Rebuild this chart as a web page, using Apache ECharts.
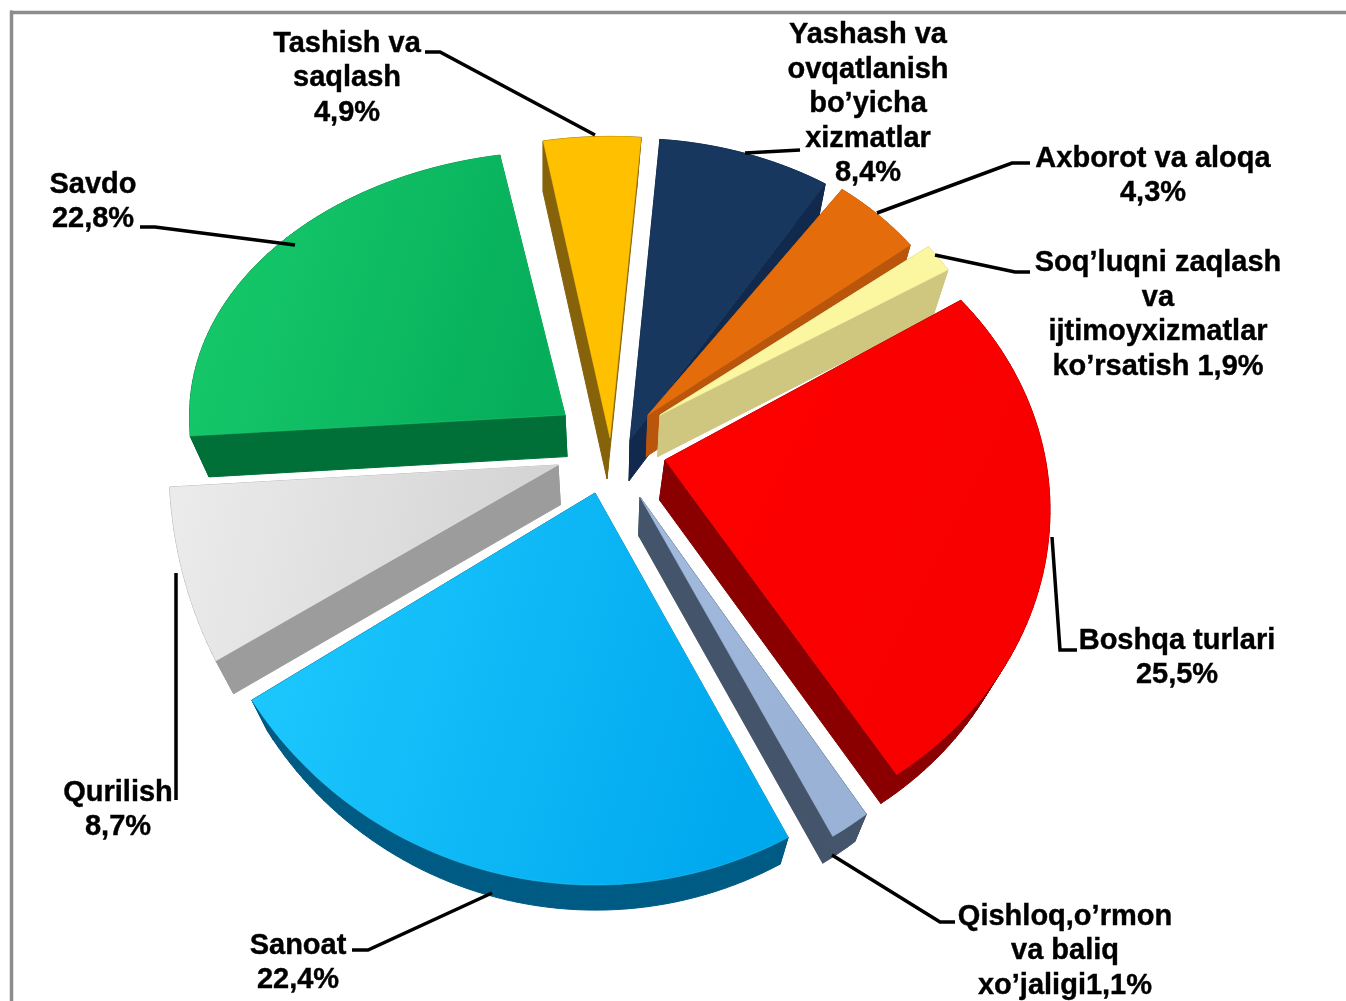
<!DOCTYPE html>
<html><head><meta charset="utf-8">
<style>html,body{margin:0;padding:0;background:#fff}#c{width:1346px;height:1001px}</style>
<script src="https://cdn.jsdelivr.net/npm/echarts@6/dist/echarts.min.js"></script>
</head><body><div id="c"></div>
<script>
// ---- data (clockwise from the top of the pie)
const categories = ["Tashish va saqlash","Yashash va ovqatlanish bo’yicha xizmatlar","Axborot va aloqa","Soq’luqni zaqlash va ijtimoyxizmatlar ko’rsatish","Boshqa turlari","Qishloq,o’rmon va baliq xo’jaligi","Sanoat","Qurilish","Savdo"];
const shares = [4.9, 8.4, 4.3, 1.9, 25.5, 1.1, 22.4, 8.7, 22.8];
const labelTexts = [
  "Tashish va\nsaqlash\n4,9%",
  "Yashash va\novqatlanish\nbo’yicha\nxizmatlar\n8,4%",
  "Axborot va aloqa\n4,3%",
  "Soq’luqni zaqlash\nva\nijtimoyxizmatlar\nko’rsatish 1,9%",
  "Boshqa turlari\n25,5%",
  "Qishloq,o’rmon\nva baliq\nxo’jaligi1,1%",
  "Sanoat\n22,4%",
  "Qurilish\n8,7%",
  "Savdo\n22,8%"];
// ---- styles
const faceFrom = ['#ffc000','#17375e','#e46c0a','#fbf7a0','#ff0000','#a3bbdd','#1fcbff','#ececec','#18cc6c'];
const faceTo   = ['#ffc000','#17375e','#e46c0a','#fbf7a0','#f80000','#9ab2d6','#00a8ee','#d2d2d2','#06ae5b'];
const wallColor= ['#86620a','#10294d','#b9560c','#cfc680','#8a0000','#44546a','#005b84','#9c9c9c','#006f38'];
// ---- layout of the tilted, exploded pie
const startAngle = -10, centerX = 610, centerY = 460, radiusX = 385, radiusBack = 290, radiusFront = 392;
const depth = 40, depthShrinkX = 0.955, depthShrinkY = 0.965;
const endShift = [-3,-6,-1,-2,-9,-6,1.5,-1,0];
const startShift = [0,0,4,0,-8,1,1.5,3.5,0];
const explodeX = [0,20,38,50,55,30,-15,-52,-45];
const explodeY = [-22,-20,-45,-45,0,37,33,5,-45];
const stretchX = [1,.96,.86,.88,1,1,1.05,1.01,.975];
const stretchBack = [1.04,1.04,.96,.95,1.13,1,1,1,.91];
const stretchFront = [1,1,1,1,.845,1,1,1.05,1];
const rimDrop = [0,0,0,0,50,0,0,0,0];
const wallLean = [-3,0,0,0,-3,0,0,0,0];
const drawOrder = [0,7,8,1,2,3,4,6,5];
const labelX = [347,868,1153,1158,1177,1065,298,118,93];
const labelY = [78,104,176,315,658,951,963,810,202];
const leaders = [
  [[425,52],[440,52],[595,135]],
  [[800,150],[745,153]],
  [[1030,163],[1012,163],[877,213]],
  [[1030,272],[1015,272],[935,255]],
  [[1077,650],[1060,650],[1052,537]],
  [[955,922],[940,922],[832,855]],
  [[352,950],[368,950],[492,893]],
  [[176,800],[176,573]],
  [[140,227],[155,227],[295,245]]];

const total = shares.reduce((a,b)=>a+b,0);
function sliceAngles(i){
  const before = shares.slice(0,i).reduce((p,q)=>p+q,0);
  const prevEnd = i>0 ? endShift[i-1] : 0;
  return [startAngle + before/total*360 + prevEnd + startShift[i],
          startAngle + (before+shares[i])/total*360 + endShift[i]];
}
function rimPoint(i,deg){
  const t = deg*Math.PI/180, c = Math.cos(t);
  const ry = c>0 ? radiusBack*stretchBack[i] : radiusFront*stretchFront[i];
  return [centerX+explodeX[i]+radiusX*stretchX[i]*Math.sin(t), centerY+explodeY[i]+rimDrop[i]-ry*c];
}
function lowered(p,i){
  return [centerX+wallLean[i]+(p[0]-centerX)*depthShrinkX, centerY+depth+(p[1]-centerY)*depthShrinkY];
}
function renderItem(params, api){
  const i = api.value(1);
  const [a0,a1] = sliceAngles(i);
  const n = Math.max(4, Math.round((a1-a0)/1.5));
  const pts = [[centerX+explodeX[i],centerY+explodeY[i]]];
  for(let k=0;k<=n;k++) pts.push(rimPoint(i,a0+(a1-a0)*k/n));
  const children = [];
  // side walls: one quad per edge of the face, between the top and the lowered copy
  for(let k=0;k<pts.length;k++){
    const p=pts[k], q=pts[(k+1)%pts.length];
    children.push({type:'polygon',shape:{points:[p,q,lowered(q,i),lowered(p,i)]},
      style:{fill:wallColor[i],stroke:wallColor[i],lineWidth:1}});
  }
  children.push({type:'polygon',shape:{points:pts},style:{
    fill:new echarts.graphic.LinearGradient(0,0,1,0.4,[{offset:0,color:faceFrom[i]},{offset:1,color:faceTo[i]}]),
    stroke:faceFrom[i],lineWidth:0.5}});
  return {type:'group',children};
}
function renderLabel(params, api){
  const i = api.value(1);
  return {type:'group',children:[
    {type:'polyline',shape:{points:leaders[i]},style:{stroke:'#000',lineWidth:3.5,fill:null}},
    {type:'text',style:{text:labelTexts[i],x:labelX[i],y:labelY[i],align:'center',verticalAlign:'middle',
      font:'bold 29px "Liberation Sans", Arial, sans-serif',lineHeight:34.5,fill:'#000',stroke:'#000',lineWidth:0.4}}
  ]};
}
const chart = echarts.init(document.getElementById('c'));
chart.setOption({
  animation:false,
  backgroundColor:'#fff',
  graphic:[
    {type:'line',shape:{x1:10,y1:12.5,x2:1346,y2:12.5},style:{stroke:'#8c8c8c',lineWidth:3.5}},
    {type:'line',shape:{x1:11.5,y1:10.5,x2:11.5,y2:1001},style:{stroke:'#8c8c8c',lineWidth:3.5}}
  ],
  series:[
    {type:'custom',name:'Slices',coordinateSystem:'none',renderItem,silent:true,
     data:drawOrder.map(i=>({name:categories[i],value:[shares[i],i]}))},
    {type:'custom',name:'Labels',coordinateSystem:'none',renderItem:renderLabel,silent:true,z:5,
     data:shares.map((v,i)=>({name:categories[i],value:[v,i]}))}
  ]
});
</script></body></html>
